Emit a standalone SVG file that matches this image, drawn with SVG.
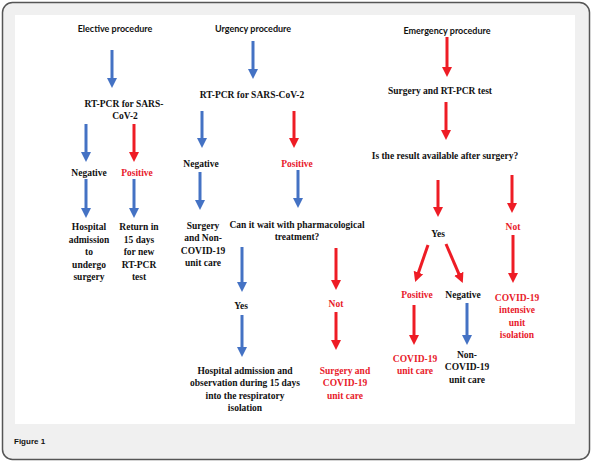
<svg xmlns="http://www.w3.org/2000/svg" width="592" height="463" viewBox="0 0 592 463">
<style>
.h{font-family:Lato,"Liberation Sans",sans-serif;font-weight:bold;font-size:9px;fill:#111;text-anchor:middle}
.t{font-family:"Liberation Serif","Times New Roman",serif;font-weight:bold;font-size:9.5px;fill:#111;text-anchor:middle}
.r{fill:#e8202a}
.b{stroke:#4472c4;stroke-width:3;fill:none}
.rd{stroke:#ee1c25;stroke-width:3;fill:none}
.b{marker-end:url(#hb)}
.rd{marker-end:url(#hr)}
</style>
<defs>
<marker id="hb" markerUnits="userSpaceOnUse" markerWidth="12" markerHeight="12" viewBox="0 -6 12 12" refX="2" refY="0" orient="auto"><path d="M0,-5 L10,0 L0,5 Z" fill="#4472c4"/></marker>
<marker id="hr" markerUnits="userSpaceOnUse" markerWidth="12" markerHeight="12" viewBox="0 -6 12 12" refX="2" refY="0" orient="auto"><path d="M0,-5 L10,0 L0,5 Z" fill="#ee1c25"/></marker>
</defs>
<rect x="2.5" y="2.5" width="587" height="457" rx="10" fill="#f0f0f0" stroke="#555" stroke-width="1.5"/>
<rect x="15" y="15" width="560" height="409" fill="#fff"/>
<text x="14" y="444" font-family="'Liberation Sans',Arial,sans-serif" font-weight="bold" font-size="8px" fill="#111">Figure 1</text>

<g id="connectors">
<line class="b" x1="112" y1="50" x2="112" y2="80"/>
<line class="b" x1="253" y1="41" x2="253" y2="71"/>
<line class="b" x1="86" y1="124" x2="86" y2="154"/>
<line class="rd" x1="134" y1="124" x2="134" y2="154"/>
<line class="b" x1="202" y1="111" x2="202" y2="140"/>
<line class="rd" x1="294" y1="111" x2="294" y2="140"/>
<line class="b" x1="86" y1="179" x2="86" y2="210"/>
<line class="b" x1="134" y1="179" x2="134" y2="210"/>
<line class="b" x1="200" y1="172" x2="200" y2="202"/>
<line class="b" x1="298" y1="170" x2="298" y2="200"/>
<line class="b" x1="242" y1="247" x2="242" y2="284"/>
<line class="b" x1="242" y1="315" x2="242" y2="349"/>
<line class="rd" x1="336" y1="248" x2="336" y2="282"/>
<line class="rd" x1="336" y1="312" x2="336" y2="342"/>
<line class="rd" x1="447" y1="37" x2="447" y2="69"/>
<line class="rd" x1="446" y1="102" x2="446" y2="132"/>
<line class="rd" x1="438" y1="180" x2="438" y2="209"/>
<line class="rd" x1="512" y1="175" x2="512" y2="205"/>
<line class="rd" x1="428" y1="245" x2="417.8" y2="274.4"/>
<line class="rd" x1="446" y1="244" x2="459.6" y2="275.6"/>
<line class="rd" x1="513" y1="235" x2="513" y2="275"/>
<line class="rd" x1="414" y1="305" x2="414" y2="337"/>
<line class="b" x1="467" y1="303" x2="467" y2="337"/>
</g>

<g id="elective">
<text class="h" x="115" y="32">Elective procedure</text>
</g>
<g id="rtpcr1">
<text class="t" x="124" y="106.5">RT-PCR for SARS-</text>
<text class="t" x="125" y="119">CoV-2</text>
</g>
<g id="neg1"><text class="t" x="89" y="175.5">Negative</text></g>
<g id="pos1"><text class="t r" x="137" y="175.5">Positive</text></g>
<g id="hospital1">
<text class="t" x="89" y="230">Hospital</text>
<text class="t" x="89" y="242.5">admission</text>
<text class="t" x="89" y="255">to</text>
<text class="t" x="89" y="267.5">undergo</text>
<text class="t" x="89" y="280">surgery</text>
</g>
<g id="return1">
<text class="t" x="139" y="230">Return in</text>
<text class="t" x="139" y="242.5">15 days</text>
<text class="t" x="139" y="255">for new</text>
<text class="t" x="139" y="267.5">RT-PCR</text>
<text class="t" x="139" y="280">test</text>
</g>

<g id="urgency"><text class="h" x="253" y="31.5">Urgency procedure</text></g>
<g id="rtpcr2"><text class="t" x="252" y="97.5">RT-PCR for SARS-CoV-2</text></g>
<g id="neg2"><text class="t" x="201" y="166.5">Negative</text></g>
<g id="pos2"><text class="t r" x="297" y="166.5">Positive</text></g>
<g id="surgnon">
<text class="t" x="203" y="228.5">Surgery</text>
<text class="t" x="203" y="241">and Non-</text>
<text class="t" x="203" y="253.5">COVID-19</text>
<text class="t" x="203" y="266">unit care</text>
</g>
<g id="canwait">
<text class="t" x="297" y="227.5">Can it wait with pharmacological</text>
<text class="t" x="297" y="240">treatment?</text>
</g>
<g id="yes2"><text class="t" x="241" y="308.5">Yes</text></g>
<g id="not2"><text class="t r" x="336" y="306.5">Not</text></g>
<g id="hospital2">
<text class="t" x="245" y="373.5">Hospital admission and</text>
<text class="t" x="245" y="386">observation during 15 days</text>
<text class="t" x="245" y="398.5">into the respiratory</text>
<text class="t" x="245" y="411">isolation</text>
</g>
<g id="surgcovid">
<text class="t r" x="345" y="373.5">Surgery and</text>
<text class="t r" x="345" y="386">COVID-19</text>
<text class="t r" x="345" y="398.5">unit care</text>
</g>

<g id="emergency"><text class="h" x="447" y="34">Emergency procedure</text></g>
<g id="surgrt"><text class="t" x="440" y="93.5">Surgery and RT-PCR test</text></g>
<g id="isresult"><text class="t" x="445" y="158.5">Is the result available after surgery?</text></g>
<g id="yes3"><text class="t" x="438" y="236.5">Yes</text></g>
<g id="not3"><text class="t r" x="513" y="229.5">Not</text></g>
<g id="pos3"><text class="t r" x="417" y="297.5">Positive</text></g>
<g id="neg3"><text class="t" x="463" y="297.5">Negative</text></g>
<g id="icu">
<text class="t r" x="517" y="300.5">COVID-19</text>
<text class="t r" x="517" y="313">intensive</text>
<text class="t r" x="517" y="325.5">unit</text>
<text class="t r" x="517" y="338">isolation</text>
</g>
<g id="covidunit">
<text class="t r" x="415" y="361.5">COVID-19</text>
<text class="t r" x="415" y="374">unit care</text>
</g>
<g id="noncovid">
<text class="t" x="467" y="357.5">Non-</text>
<text class="t" x="467" y="370">COVID-19</text>
<text class="t" x="467" y="382.5">unit care</text>
</g>
</svg>
